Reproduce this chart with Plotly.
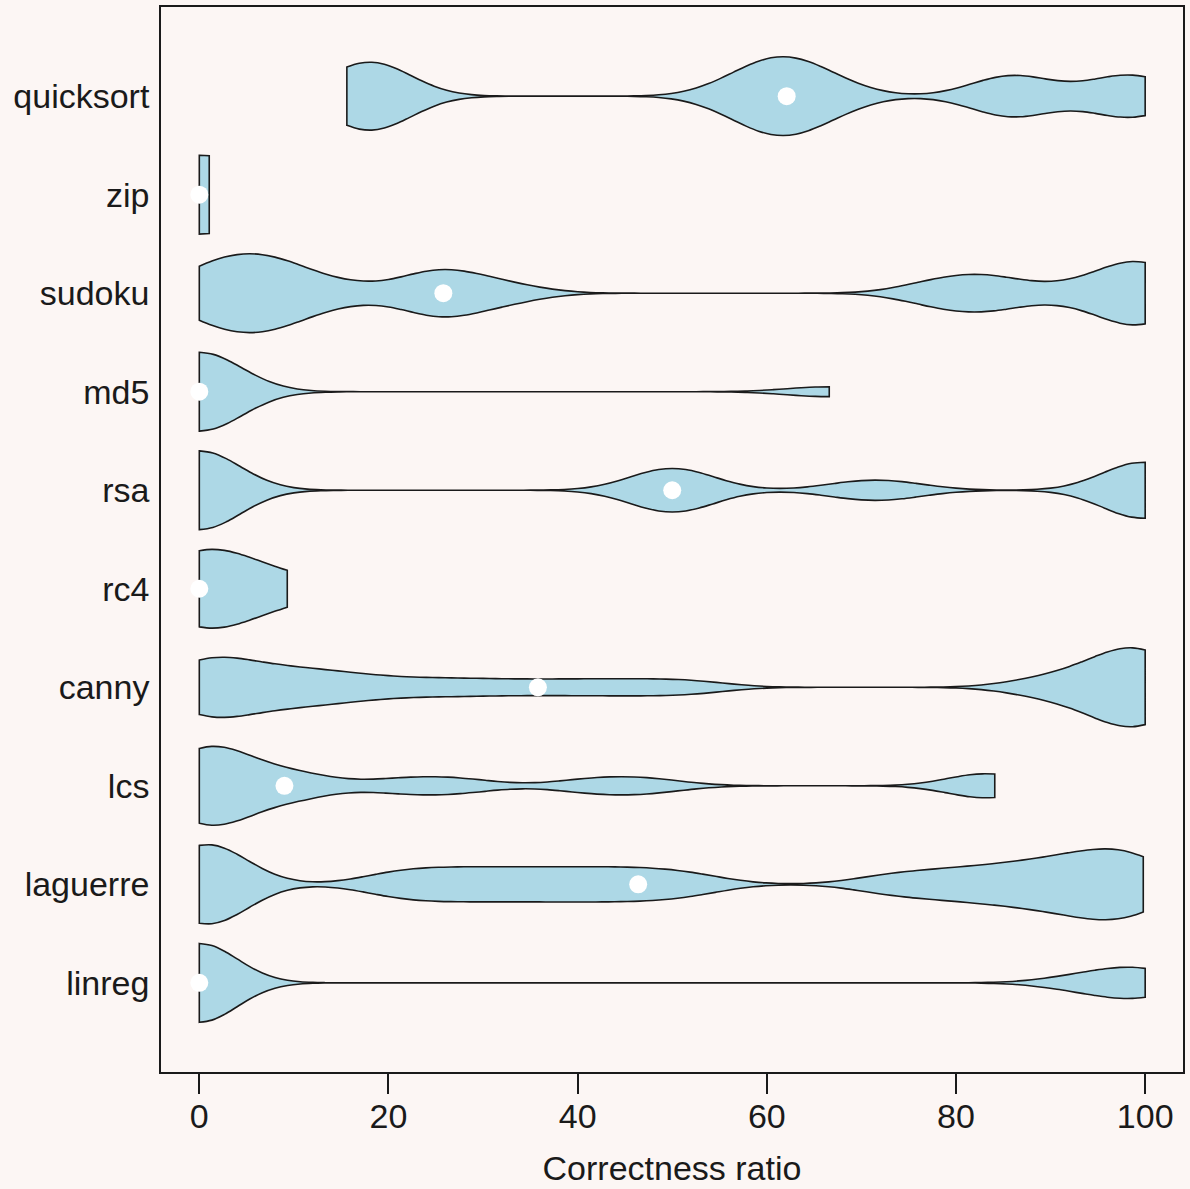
import numpy as np
import plotly.graph_objects as go

# Categories (top to bottom as displayed)
categories = ["quicksort", "zip", "sudoku", "md5", "rsa", "rc4", "canny", "lcs", "laguerre", "linreg"]

# Correctness ratio samples per program
quicksort = [15.6, 17, 18, 19, 20.5, 56.5, 59, 61, 61.9, 62.3, 64.5, 67.5, 84, 86, 88, 96.5, 98.5, 100]
zip_ = [0, 0, 0, 0, 0, 0.4, 1.05]
sudoku = [0, 0.5, 2, 4, 5.5, 6.5, 7.5, 9, 11, 15.5, 23.5, 25, 25.8, 28.5, 33,
          77, 80.5, 83, 85.5, 93, 97.5, 99, 100, 100, 100]
md5 = [0, 0, 0, 0, 0, 0, 0, 0, 66.6]
rsa = [0, 0, 0, 0, 0, 0, 0, 48.5, 49.5, 50.5, 51.5, 69.5, 73.5, 99, 100, 100, 100, 100]
rc4 = [0, 0, 0, 0, 0, 0, 1.5, 3, 6, 9, 9.3]
canny = [0, 0, 0, 0.8, 2.5, 4.5, 6.5, 8.5, 10.8, 13.3, 16, 20, 25, 30, 35.8, 41.5, 47, 52.5,
         88, 92, 94.5, 96, 97, 99, 100, 100, 100, 100, 100]
lcs = [0, 0, 0, 0, 0, 0.5, 1.5, 2.5, 3.5, 5, 7.5, 10.5, 11.5, 20.5, 24.4, 28.5,
       40.5, 44.6, 48.5, 82, 83.5, 84.1]
laguerre = [0, 0, 0, 0, 0, 1, 2.5, 4, 19.5, 22.5, 25.5, 28.5, 31.5, 34.5, 37.5, 40.5, 43.5,
            46.4, 49.5, 53, 72, 76, 79.5, 82.5, 85, 87.5, 89.5, 91.5, 93, 94.5, 96, 97.5,
            98.5, 99.3, 99.8]
linreg = [0, 0, 0, 0, 0, 0, 0, 0, 0, 0, 92, 96, 98.5, 100, 100]

series = {
    "quicksort": quicksort, "zip": zip_, "sudoku": sudoku, "md5": md5, "rsa": rsa,
    "rc4": rc4, "canny": canny, "lcs": lcs, "laguerre": laguerre, "linreg": linreg,
}

# KDE bandwidths
bandwidths = {
    "quicksort": 4, "zip": 5, "sudoku": 4, "md5": 4.5, "rsa": 4.3,
    "rc4": 4.5, "canny": 4, "lcs": 4, "laguerre": 4, "linreg": 4,
}

x_ticks = [0, 20, 40, 60, 80, 100]

BG = "#fcf6f4"
INK = "#1a1a1a"
FONT = "Liberation Sans, Arial, sans-serif"

fig = go.Figure()
for name in categories:
    vals = series[name]
    fig.add_trace(go.Violin(
        x=vals, y0=name, name=name, orientation="h",
        bandwidth=bandwidths[name], spanmode="hard", scalemode="width", width=0.8,
        points=False, box_visible=False, meanline_visible=False, side="both",
        fillcolor="#add8e6", line=dict(color=INK, width=1.6), opacity=1,
        hoverinfo="x+y",
    ))

medians = [float(np.median(series[n])) for n in categories]
fig.add_trace(go.Scatter(
    x=medians, y=categories, mode="markers",
    marker=dict(size=18, color="white", line=dict(width=0)),
    hoverinfo="x+y",
))

order_bottom_up = categories[::-1]
fig.update_layout(
    width=1190, height=1189,
    paper_bgcolor=BG, plot_bgcolor=BG,
    margin=dict(l=161, r=5, t=6, b=117),
    showlegend=False,
    violinmode="overlay",
    font=dict(family=FONT, size=34, color=INK),
    xaxis=dict(
        range=[-4.05, 104.0], tickvals=x_ticks, ticktext=[str(t) for t in x_ticks],
        showgrid=False, zeroline=False,
        showline=True, mirror=True, linecolor=INK, linewidth=1.6,
        ticks="outside", ticklen=20, tickwidth=1.6, tickcolor=INK,
        ticklabelstandoff=-7,
        tickfont=dict(size=34, family=FONT, color=INK),
        title=dict(text="Correctness ratio", font=dict(size=34, family=FONT, color=INK), standoff=23),
    ),
    yaxis=dict(
        type="category", categoryorder="array", categoryarray=order_bottom_up,
        range=[-0.905, 9.905],
        showgrid=False, zeroline=False,
        showline=True, mirror=True, linecolor=INK, linewidth=1.6,
        ticks="", ticklabelstandoff=3,
        tickfont=dict(size=34, family=FONT, color=INK),
    ),
)

fig.write_html(
    "out.html",
    config={"displayModeBar": False},
    post_script="document.body.style.margin='0px'; document.body.style.background='" + BG + "';",
)
